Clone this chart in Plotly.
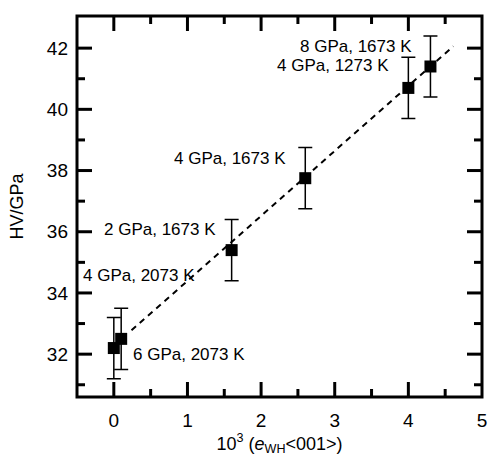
import plotly.graph_objects as go

# Data
strain = [0.0, 0.1, 1.6, 2.6, 4.0, 4.3]
hardness = [32.2, 32.5, 35.4, 37.75, 40.7, 41.4]
hardness_err = [1.0, 1.0, 1.0, 1.0, 1.0, 1.0]

fit_x = [0.24, 4.61]
fit_y = [32.78, 42.06]

labels = ["8 GPa, 1673 K", "4 GPa, 1273 K", "4 GPa, 1673 K",
          "2 GPa, 1673 K", "4 GPa, 2073 K", "6 GPa, 2073 K"]
label_x = [4.07, 3.77, 2.37, 1.42, -0.44, 0.24]
label_y = [42.06, 41.42, 38.4, 36.06, 34.58, 31.98]
label_anchor = ["right", "right", "right", "right", "left", "left"]

x_ticks = [0, 1, 2, 3, 4, 5]
x_minor = [0.5, 1.5, 2.5, 3.5, 4.5]
y_ticks = [32, 34, 36, 38, 40, 42]
y_minor = [31, 33, 35, 37, 39, 41]

X_RANGE = [-0.5, 5.0]
Y_RANGE = [30.6, 43.05]

W, H = 489, 462
M = dict(l=77, r=7, t=16, b=65)
PW = W - M["l"] - M["r"]
PH = H - M["t"] - M["b"]

FONT = "Liberation Sans, Arial, Helvetica, sans-serif"

fig = go.Figure()
fig.add_trace(go.Scatter(
    x=fit_x, y=fit_y, mode="lines",
    line=dict(color="black", width=2, dash="6px,5px"),
    showlegend=False, hoverinfo="skip"))
fig.add_trace(go.Scatter(
    x=strain, y=hardness, mode="markers",
    marker=dict(symbol="square", size=12, color="black"),
    error_y=dict(type="data", array=hardness_err, visible=True,
                 color="black", thickness=1.5, width=7),
    showlegend=False))

for t, lx, ly, a in zip(labels, label_x, label_y, label_anchor):
    fig.add_annotation(x=lx, y=ly, text=t, showarrow=False, xanchor=a,
                       yanchor="middle", font=dict(size=17, color="black", family=FONT))

# frame and tick marks (paper coordinates follow the axis ranges)
def fx(v):
    return (v - X_RANGE[0]) / (X_RANGE[1] - X_RANGE[0])

def fy(v):
    return (v - Y_RANGE[0]) / (Y_RANGE[1] - Y_RANGE[0])

line = dict(color="black", width=3)
fig.add_shape(type="rect", xref="paper", yref="paper", x0=0, x1=1, y0=0, y1=1,
              line=line, layer="above")
for vals, ln in ((x_ticks, 15), (x_minor, 8)):
    for v in vals:
        p = fx(v)
        if 0 < p < 1:
            fig.add_shape(type="line", xref="paper", yref="paper", x0=p, x1=p,
                          y0=0, y1=ln / PH, line=line, layer="above")
            fig.add_shape(type="line", xref="paper", yref="paper", x0=p, x1=p,
                          y0=1, y1=1 - ln / PH, line=line, layer="above")
for vals, ln in ((y_ticks, 15), (y_minor, 8)):
    for v in vals:
        p = fy(v)
        if 0 < p < 1:
            fig.add_shape(type="line", xref="paper", yref="paper", y0=p, y1=p,
                          x0=0, x1=ln / PW, line=line, layer="above")
            fig.add_shape(type="line", xref="paper", yref="paper", y0=p, y1=p,
                          x0=1, x1=1 - ln / PW, line=line, layer="above")

axis_common = dict(
    showgrid=False, zeroline=False, showline=False, ticks="",
    tickfont=dict(size=19, color="black", family=FONT),
)

fig.update_xaxes(
    range=X_RANGE, tickmode="array", tickvals=x_ticks,
    ticktext=[str(v) for v in x_ticks], ticklabelstandoff=10,
    title=dict(text="10<sup>3</sup> (<i>e</i><sub>WH</sub>&lt;001&gt;)",
               font=dict(size=18, color="black", family=FONT), standoff=4),
    **axis_common)
fig.update_yaxes(
    range=Y_RANGE, tickmode="array", tickvals=y_ticks,
    ticktext=[str(v) for v in y_ticks], ticklabelstandoff=8,
    title=dict(text="HV/GPa", font=dict(size=18, color="black", family=FONT), standoff=18),
    **axis_common)

fig.update_layout(
    width=W, height=H,
    margin=dict(l=M["l"], r=M["r"], t=M["t"], b=M["b"], autoexpand=False),
    paper_bgcolor="white", plot_bgcolor="white",
    font=dict(family=FONT, color="black"),
)

fig.write_html("out.html")
